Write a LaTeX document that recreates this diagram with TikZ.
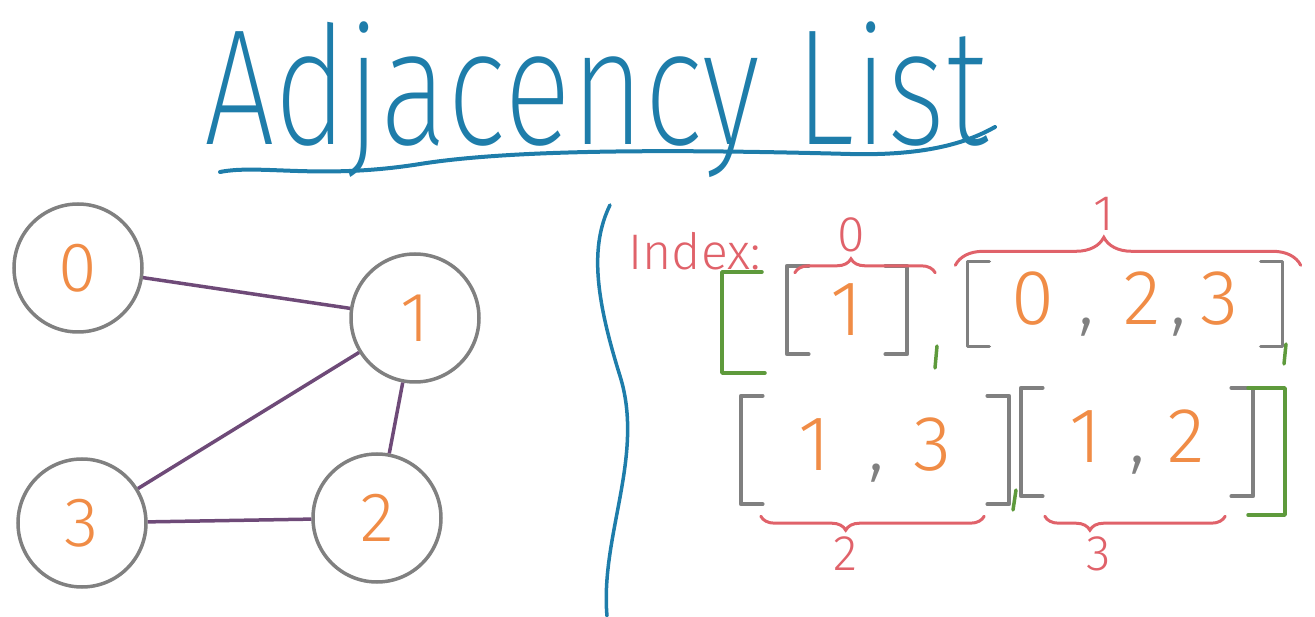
\documentclass[tikz,border=0pt]{standalone}
\usepackage{fontspec}
\setmainfont{Fira Sans Light}
\newfontfamily\thinpen{Fira Sans ExtraLight}
\usepackage{tikz}
\usetikzlibrary{positioning,calc,decorations.pathreplacing}
\definecolor{penblue}{HTML}{1E7DAA}
\definecolor{penred}{HTML}{E0626A}
\definecolor{pengreen}{HTML}{5E9A3C}
\definecolor{pengray}{HTML}{808080}
\definecolor{penorange}{HTML}{F08C46}
\definecolor{penpurple}{HTML}{6E4A78}
\newcommand{\cm}{{\color{pengray},}}

\begin{document}
\begin{tikzpicture}[x=1pt, y=1pt,
	vertex/.style={circle, draw=pengray, line width=3.5pt, minimum size=128pt, inner sep=0pt,
		text=penorange, font=\fontsize{70}{70}\selectfont},
	link/.style={draw=penpurple, line width=3.5pt},
	lst/.style={inner sep=0pt, text=penorange, font=\fontsize{78}{78}\selectfont},
	brk/.style={draw=pengray, line width=3.5pt, line cap=round, line join=round},
	grp/.style={draw=pengreen, line width=3.5pt, line cap=round, line join=round},
	brc/.style={draw=penred, line width=3pt, line cap=round, decorate},
	lbl/.style={text=penred, font=\fontsize{50}{50}\selectfont}]
	  \useasboundingbox (0,0) rectangle (1315,616);
	  % title
	  \node[anchor=base, text=penblue, font=\thinpen\fontsize{165}{165}\selectfont, xscale=0.76] (title) at (596,471) {Adjacency List};
	  \draw[penblue, line width=4pt, line cap=round]
	    (220,444) .. controls (260,452) and (320,436) .. (420,452)
	    .. controls (520,468) and (700,466) .. (850,462)
	    .. controls (930,460) and (970,475) .. (995,489);
	  % graph
	  \node[vertex] (v0) at (78,348) {0};
	  \node[vertex] (v1) at (415,298) {1};
	  \node[vertex] (v3) at (82,93) {3};
	  \node[vertex] (v2) at (377,98) {2};
	  \path[link] (v0) -- (v1) (v1) -- (v3) (v1) -- (v2) (v3) -- (v2);
	  % divider
	  \draw[penblue, line width=3.5pt, line cap=round]
	    (610,411) .. controls (590,370) and (595,320) .. (620,240)
	    .. controls (645,160) and (600,80) .. (607,0);
	  % the list
	  \node[anchor=base west, text=penred, font=\fontsize{50}{50}\selectfont] (index) at (625,346) {Index:};
	  \node[lst, minimum width=120pt, minimum height=88pt] (l0) at (847,306) {1};
	  \node[lst, minimum width=315pt, minimum height=85pt] (l1) at (1125,312) {0\hspace{24pt}\cm\hspace{29pt}2\hspace{10pt}\cm\hspace{14pt}3};
	  \node[lst, minimum width=268pt, minimum height=108pt] (l2) at (875,166) {1\hspace{38pt}\cm\hspace{29pt}3\hspace{90pt}};
	  \node[lst, minimum width=232pt, minimum height=108pt] (l3) at (1137,174) {1\hspace{28pt}\cm\hspace{22pt}2\hspace{10pt}};
	  \foreach \l in {l0,l1,l2,l3} {
	    \draw[brk] ([xshift=22pt]\l.north west) -- (\l.north west) -- (\l.south west) -- ([xshift=22pt]\l.south west);
	    \draw[brk] ([xshift=-22pt]\l.north east) -- (\l.north east) -- (\l.south east) -- ([xshift=-22pt]\l.south east);
	  }
	  \draw[grp] (762,344) -- (722,344) -- (722,243) -- (765,243);
	  \draw[grp] (1248,228) -- (1285,228) -- (1285,101) -- (1248,101);
	  \draw[grp] (937,270) -- (935,248);
	  \draw[grp] (1286,272) -- (1284,252);
	  \draw[grp] (1016,126) -- (1013,106);
	  % indices
	  \draw[brc, decoration={brace, amplitude=14pt, aspect=0.4}]
	    ([xshift=8pt, yshift=-7pt]l0.north west) -- ([xshift=28pt, yshift=-7pt]l0.north east)
	    node[lbl, pos=0.4, above=16pt] (i0) {0};
	  \draw[brc, decoration={brace, amplitude=28pt, aspect=0.43}]
	    ([xshift=-12pt, yshift=-4pt]l1.north west) -- ([xshift=18pt, yshift=-4pt]l1.north east)
	    node[lbl, pos=0.43, above=30pt] (i1) {1};
	  \draw[brc, decoration={brace, mirror, amplitude=14pt, aspect=0.38}]
	    ([xshift=20pt, yshift=-12pt]l2.south west) -- ([xshift=-25pt, yshift=-12pt]l2.south east)
	    node[lbl, pos=0.38, below=16pt] (i2) {2};
	  \draw[brc, decoration={brace, mirror, amplitude=14pt, aspect=0.25}]
	    ([xshift=24pt, yshift=-20pt]l3.south west) -- ([xshift=-28pt, yshift=-20pt]l3.south east)
	    node[lbl, pos=0.3, below=16pt] (i3) {3};
	\end{tikzpicture}
\end{document}
